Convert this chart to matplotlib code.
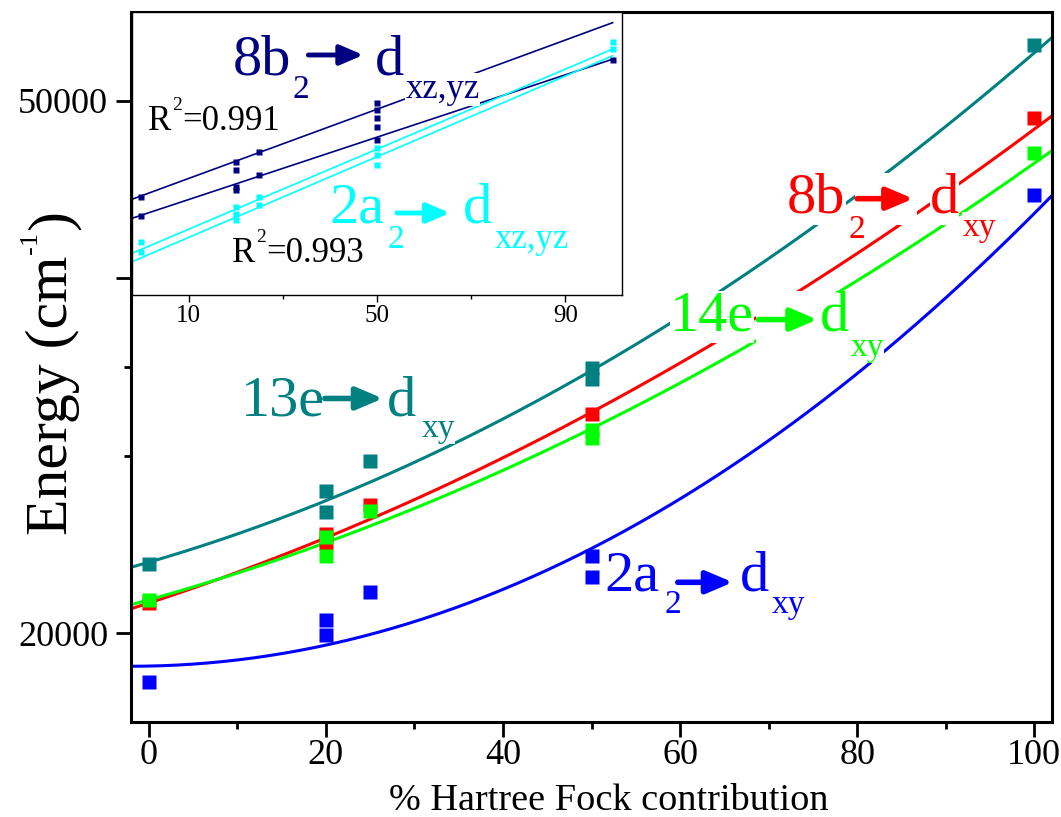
import numpy as np
import matplotlib
matplotlib.use("Agg")
import matplotlib.pyplot as plt
from matplotlib.transforms import offset_copy
from matplotlib.patches import Rectangle

plt.rcParams['font.family'] = ['Liberation Serif', 'DejaVu Serif']

# ---------------- data: main panel ----------------
teal_x = [0, 20, 20, 25, 50, 50, 100]
teal_y = [23883, 27992, 26810, 29680, 34970, 34350, 53121]
red_x = [0, 20, 20, 25, 50, 100]
red_y = [21700, 25600, 25065, 27232, 32325, 49040]
green_x = [0, 20, 20, 25, 50, 50, 100]
green_y = [21860, 25403, 24334, 26866, 31453, 31003, 47071]
blue_x = [0, 20, 20, 25, 50, 50, 100]
blue_y = [17259, 20760, 19887, 22307, 24362, 23152, 44707]

# quadratic fit curves (a, b, c): E = a + b*x + c*x^2
teal_fit = [24000, 145, 1.42]
red_fit = [21700, 163, 1.04]
green_fit = [21880, 140, 1.06]
blue_fit = [18150, 10, 2.45]

# ---------------- data: inset ----------------
navy_a_x = [0, 20, 20, 25, 50, 50, 50, 50]
navy_a_y = [34501, 39695, 38553, 41179, 48451, 47457, 46225, 44979]
navy_b_x = [0, 20, 20, 25, 50, 100]
navy_b_y = [31726, 36075, 35585, 37811, 43005, 54877]
cyan_x = [0, 0, 20, 20, 20, 25, 25, 50, 50, 50, 100, 100]
cyan_y = [27913, 26429, 33106, 32023, 31133, 34501, 33359, 41773, 40779, 39295, 57593, 56465]

# linear fits (intercept, slope)
navy_fit_a = [34723, 256.9]
navy_fit_b = [31845, 231.5]
cyan_fit_a = [26785, 297.1]
cyan_fit_b = [25538, 299.6]

TEAL = '#008080'
RED = '#FF0000'
GREEN = '#00FF00'
BLUE = '#0000FF'
NAVY = '#000080'
CYAN = '#00FFFF'

fig = plt.figure(figsize=(10.61, 8.17), dpi=100)
ax = fig.add_axes([131/1061, 95/817, 921/1061, 710/817])

xs = np.linspace(-2, 102, 300)
for fit, col in [(teal_fit, TEAL), (red_fit, RED), (green_fit, GREEN), (blue_fit, BLUE)]:
    a, b, c = fit
    ax.plot(xs, a + b*xs + c*xs**2, color=col, lw=2.2, zorder=2, solid_capstyle='butt')

for xv, yv, col in [(teal_x, teal_y, TEAL), (red_x, red_y, RED),
                    (green_x, green_y, GREEN), (blue_x, blue_y, BLUE)]:
    ax.plot(xv, yv, 's', color=col, ms=10.5, mec='none', zorder=3)

ax.set_xlim(-2, 102)
ax.set_ylim(15000, 55000)
ax.set_xticks([0, 20, 40, 60, 80, 100])
ax.set_xticks([10, 30, 50, 70, 90], minor=True)
ax.set_yticks([20000, 40000, 50000])
ax.set_yticklabels(['20000', '', '50000'])
ax.set_yticks([30000, 35000], minor=True)
ax.tick_params(which='major', direction='out', length=10.5, width=2, labelsize=26)
ax.tick_params(axis='x', which='major', pad=2)
ax.tick_params(axis='y', which='major', pad=6)
ax.tick_params(which='minor', direction='out', length=5, width=2)
for s in ax.spines.values():
    s.set_linewidth(2.2)

ax.set_xlabel('% Hartree Fock contribution', fontsize=27.5)
ax.xaxis.set_label_coords(0.5185, -0.086)

# ---------------- inset ----------------
ins = fig.add_axes([132/1061, 522/817, 490/1061, 283/817])
ins.set_facecolor('white')
xl = np.array([-2, 100])
for fit, col in [(navy_fit_a, NAVY), (navy_fit_b, NAVY), (cyan_fit_a, CYAN), (cyan_fit_b, CYAN)]:
    ins.plot(xl, fit[0] + fit[1]*xl, color=col, lw=1.2, zorder=2)
for xv, yv, col in [(navy_a_x, navy_a_y, NAVY), (navy_b_x, navy_b_y, NAVY), (cyan_x, cyan_y, CYAN)]:
    ins.plot(xv, yv, 's', color=col, ms=5, mec='none', zorder=3)
ins.set_xlim(-2, 102)
ins.set_ylim(20000, 62000)
ins.set_xticks([10, 50, 90])
ins.set_xticks([30, 70], minor=True)
ins.set_yticks([])
ins.tick_params(axis='x', which='major', direction='out', length=5, width=1, labelsize=18, pad=2)
ins.tick_params(axis='x', which='minor', direction='out', length=3, width=1)
for s in ins.spines.values():
    s.set_linewidth(1.0)

renderer = fig.canvas.get_renderer()
PX = 72.0 / fig.dpi
W, H = 1061.0, 817.0

# y label built from pieces (rotated), small raised "-1"
t1 = fig.text(67/W, 1 - 535/H, 'Energy (cm', rotation=90, rotation_mode='anchor',
              ha='left', va='baseline', fontsize=43)
e1 = t1.get_window_extent(renderer)
t2 = fig.text(37/W, (e1.y1 + 2)/H, '-1', rotation=90, rotation_mode='anchor',
              ha='left', va='baseline', fontsize=19)
e2 = t2.get_window_extent(renderer)
fig.text(67/W, (e2.y1 + 1)/H, ')', rotation=90, rotation_mode='anchor',
         ha='left', va='baseline', fontsize=43)


def compound(axx, x, y, pieces, color, head=(0.8, 0.34), lw=4.0):
    """pieces: ('t', text, size, dx_px, dy_px) or ('a', dx0_px, dx1_px, dy_px)"""
    first = None
    arrows = []
    for p in pieces:
        if p[0] == 't':
            _, s, size, dx, dy = p
            tr = offset_copy(axx.transData, fig=fig, x=dx*PX, y=dy*PX, units='points')
            t = axx.text(x, y, s, transform=tr, fontsize=size, color=color,
                         ha='left', va='baseline', zorder=6,
                         bbox=dict(facecolor='white', edgecolor='none', pad=0))
            if first is None:
                first = t
        else:
            arrows.append(p)
    ext = first.get_window_extent(renderer)
    ax0, ay0 = axx.transData.transform((x, y))
    for _, dx0, dx1, dy in arrows:
        rx = ax0 + dx0 - 2
        rw = dx1 - dx0 + 6
        axx.add_patch(Rectangle((rx/W, ext.y0/H), rw/W, ext.height/H,
                                transform=fig.transFigure, facecolor='white', edgecolor='none',
                                zorder=5, clip_on=False))
        tr0 = offset_copy(axx.transData, fig=fig, x=dx0*PX, y=dy*PX, units='points')
        tr1 = offset_copy(axx.transData, fig=fig, x=dx1*PX, y=dy*PX, units='points')
        axx.annotate('', xy=(x, y), xycoords=tr1, xytext=(x, y), textcoords=tr0,
                     arrowprops=dict(arrowstyle='-|>,head_length=%g,head_width=%g' % head,
                                     mutation_scale=20, lw=lw, color=color,
                                     shrinkA=0, shrinkB=0),
                     zorder=7, annotation_clip=False)


# main labels (anchors: baseline-left, data coords)
compound(ax, 10.4, 32269, [('t', '13e', 42, 0, 0), ('a', 84, 142, 17),
                           ('t', 'd', 42, 146, 0), ('t', 'xy', 24, 181, -22)], TEAL)
compound(ax, 72.1, 43694, [('t', '8b', 42, 0, 0), ('t', '2', 24, 61, -25), ('a', 70, 126, 14),
                           ('t', 'd', 42, 143, 0), ('t', 'xy', 24, 175, -23)], RED)
compound(ax, 58.9, 37053, [('t', '14e', 42, 0, 0), ('a', 88, 147, 11),
                           ('t', 'd', 42, 150, 0), ('t', 'xy', 24, 180, -25)], GREEN)
compound(ax, 51.5, 22420, [('t', '2a', 42, 0, 0), ('t', '2', 24, 60, -23), ('a', 73, 128, 8),
                           ('t', 'd', 42, 135, 0), ('t', 'xy', 24, 167, -23)], BLUE)

# inset labels
compound(ins, 19.3, 52651, [('t', '8b', 42, 0, 0), ('t', '2', 24, 60, -23), ('a', 76, 131, 20),
                            ('t', 'd', 42, 143, 0), ('t', 'xz,yz', 25, 173, -23)], NAVY,
         head=(0.7, 0.3), lw=3.5)
compound(ins, 39.8, 30688, [('t', '2a', 42, 0, 0), ('t', '2', 24, 59, -25), ('a', 68, 121, 10),
                            ('t', 'd', 42, 134, 0), ('t', 'xz,yz', 25, 166, -25)], CYAN,
         head=(0.7, 0.3), lw=3.5)
compound(ins, 1.5, 44489, [('t', 'R', 25, 0, 0), ('t', '2', 14, 24, 20),
                           ('t', '=0.991', 25, 34, 0)], 'black')
compound(ins, 19.3, 24900, [('t', 'R', 25, 0, 0), ('t', '2', 14, 24, 20),
                            ('t', '=0.993', 25, 34, 0)], 'black')

fig.savefig('out.png', dpi=100)
